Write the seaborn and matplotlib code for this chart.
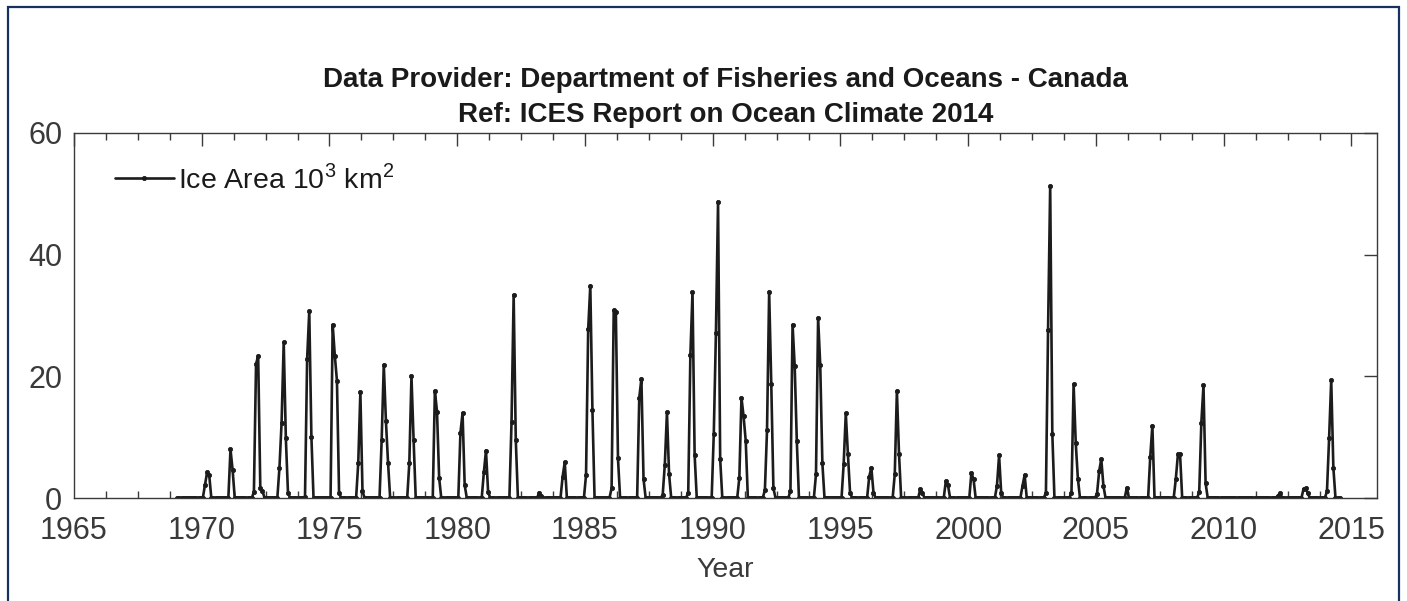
import numpy as np
import pandas as pd
import matplotlib
matplotlib.use("Agg")
import matplotlib.pyplot as plt
from matplotlib.ticker import MultipleLocator
from matplotlib.patches import Rectangle
import seaborn as sns

# Monthly sea-ice area (10^3 km^2); ice appears only Jan-May, all other months are zero.
years = list(range(1969, 2015))
jan_area = [0, 0, 0, 1.0, 5.0, 0.2, 0, 0, 9.5, 0, 0, 0, 4.2, 0, 0, 0, 3.8, 1.6, 0, 0.5,
            0.9, 10.6, 3.3, 1.3, 1.2, 3.9, 0, 0, 0, 0, 0, 0, 0, 0, 0.9, 0.9, 0.7, 0, 0, 0,
            1.0, 0, 0, 0, 0, 1.1]
feb_area = [0, 2.1, 8.0, 22.0, 12.4, 22.9, 28.5, 5.7, 21.9, 5.8, 17.6, 10.7, 7.8, 12.5, 0, 3.5,
            27.7, 30.9, 16.5, 5.5, 23.5, 27.1, 16.5, 11.1, 28.5, 29.6, 5.6, 3.5, 3.9, 1.5, 2.8, 4.1,
            2.0, 2.0, 27.6, 18.7, 4.4, 0, 6.8, 3.1, 12.4, 0, 0, 0.4, 1.5, 9.8]
mar_area = [0, 4.2, 4.6, 23.4, 25.6, 30.7, 23.4, 17.4, 12.7, 20.0, 14.2, 14.0, 1.0, 33.4, 0.9, 5.9,
            34.9, 30.6, 19.6, 14.1, 33.8, 48.7, 13.4, 33.9, 21.7, 21.8, 13.9, 5.0, 17.6, 0.8, 2.1, 3.1,
            7.0, 3.8, 51.3, 9.1, 6.4, 1.7, 11.9, 7.2, 18.5, 0, 0, 0.8, 1.6, 19.4]
apr_area = [0, 3.8, 0, 1.7, 9.8, 10.1, 19.3, 1.1, 5.8, 9.6, 3.3, 2.1, 0, 9.5, 0.3, 0,
            14.4, 6.5, 3.1, 3.9, 7.1, 6.4, 9.4, 18.7, 9.3, 5.7, 7.2, 0.9, 7.2, 0, 0, 0,
            0.8, 0, 10.6, 3.2, 2.0, 0, 0, 7.2, 2.4, 0, 0, 0, 0.8, 5.0]
may_area = [0, 0, 0, 1.2, 0.9, 0, 0.8, 0, 0, 0, 0, 0, 0, 0, 0, 0,
            0, 0, 0, 0, 0, 0, 0, 1.6, 0, 0, 0.9, 0, 0, 0, 0, 0,
            0, 0, 0, 0, 0, 0, 0, 0, 0, 0, 0, 0, 0, 0]
last_month = (2014, 7)  # series ends July 2014

# Assemble the monthly time series (x = decimal year at mid-month)
rows = []
season = list(zip(jan_area, feb_area, mar_area, apr_area, may_area))
for yr, vals in zip(years, season):
    for m in range(1, 13):
        if (yr, m) > last_month:
            break
        v = vals[m - 1] if m <= 5 else 0.0
        rows.append({"time": yr + (m - 0.5) / 12.0, "area": v})
df = pd.DataFrame(rows)

sns.set_theme(style="white")
plt.rcParams["font.family"] = ["Liberation Sans", "DejaVu Sans"]
plt.rcParams["mathtext.fontset"] = "custom"
plt.rcParams["mathtext.rm"] = "Liberation Sans"

W, H = 1407, 601
fig = plt.figure(figsize=(W / 100, H / 100), dpi=100)
ax = fig.add_axes([74 / W, 1 - 498 / H, (1377 - 74) / W, (498 - 133) / H])

line_col = "#1c1c1c"
sns.lineplot(data=df, x="time", y="area", ax=ax, color=line_col, linewidth=1.9,
             marker=".", markersize=6, markeredgecolor=line_col, markerfacecolor=line_col,
             markeredgewidth=0.6, label=r"Ice Area 10$^3$ km$^2$", errorbar=None)

axis_col = "#3a3a3a"
ax.set_xlim(1965, 2016)
ax.set_ylim(0, 60)
ax.set_xticks(np.arange(1965, 2016, 5))
ax.set_yticks([0, 20, 40, 60])
ax.xaxis.set_minor_locator(MultipleLocator(1.25))
for sp in ax.spines.values():
    sp.set_color(axis_col)
    sp.set_linewidth(1.0)
ax.tick_params(axis="both", which="major", direction="in", length=9.5, width=1.0,
               color=axis_col, labelcolor=axis_col, labelsize=22, top=True, right=True)
ax.tick_params(axis="x", which="major", pad=13)
ax.tick_params(axis="y", which="major", pad=8.5)
ax.tick_params(axis="x", which="minor", direction="in", length=4.8, width=1.0,
               color=axis_col, top=True, bottom=True)

ax.set_xlabel("Year", fontsize=20.5, color=axis_col, labelpad=8)
ax.set_ylabel("")
ax.set_title("Data Provider: Department of Fisheries and Oceans - Canada\n"
             "Ref: ICES Report on Ocean Climate 2014",
             fontsize=20, fontweight="bold", color="#1a1a1a", pad=8, linespacing=1.45)

leg = ax.legend(loc="upper left", bbox_to_anchor=(0.018, 0.962), frameon=False,
                fontsize=20.5, handlelength=2.1, handletextpad=0.12, borderaxespad=0.2)
for t in leg.get_texts():
    t.set_color("#1a1a1a")

# Navy frame around the figure
fig.patches.append(Rectangle((8 / W, -0.05), (1399 - 8) / W, 1.05 - 7 / H,
                             transform=fig.transFigure, fill=False,
                             edgecolor="#17325f", linewidth=1.6, zorder=10))

fig.savefig("out.png", dpi=100)
